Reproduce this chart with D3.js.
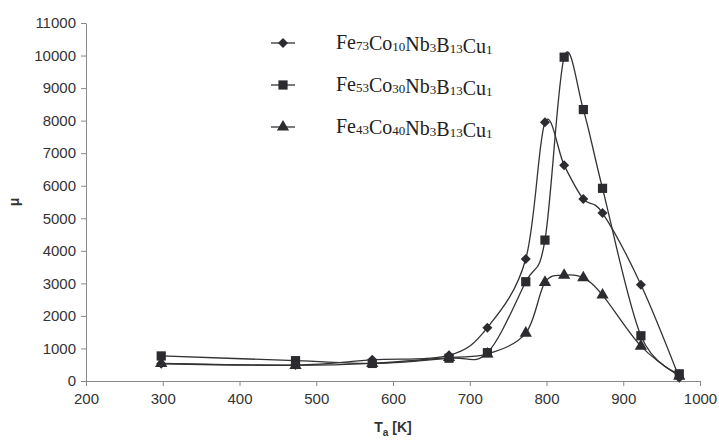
<!DOCTYPE html>
<html>
<head>
<meta charset="utf-8">
<script src="https://cdn.jsdelivr.net/npm/d3@7"></script>
<style>
  body { margin: 0; background: #fff; }
  .axis text { font-family: "Liberation Sans", Arial, sans-serif; font-size: 15px; fill: #333; }
  .axis path, .axis line { stroke: #888; }
</style>
</head>
<body>
<div id="chart"></div>
<script>
// annealing temperatures [K]
let temps = [298, 473, 573, 673, 723, 773, 798, 823, 848, 873, 923, 973];

// permeability values
let muCo10 = [530, 490, 650, 790, 1640, 3750, 7950, 6630, 5590, 5160, 2960, 100];
let muCo30 = [770, 625, 540, 700, 870, 3050, 4330, 9950, 8340, 5920, 1390, 220];
let muCo40 = [540, 480, 540, 720, 830, 1470, 3030, 3250, 3170, 2640, 1070, 150];

let xTicks = [200, 300, 400, 500, 600, 700, 800, 900, 1000];
let yTicks = [0, 1000, 2000, 3000, 4000, 5000, 6000, 7000, 8000, 9000, 10000, 11000];

// legend name pieces: [text, subscript]
let names = [
    [["Fe", "73"], ["Co", "10"], ["Nb", "3"], ["B", "13"], ["Cu", "1"]],
    [["Fe", "53"], ["Co", "30"], ["Nb", "3"], ["B", "13"], ["Cu", "1"]],
    [["Fe", "43"], ["Co", "40"], ["Nb", "3"], ["B", "13"], ["Cu", "1"]]
];

// square rotated 45 degrees, like the spreadsheet diamond
let wideDiamond = {
    draw: function (ctx, size) {
        let r = Math.sqrt(size / 2);
        ctx.moveTo(0, -r);
        ctx.lineTo(r, 0);
        ctx.lineTo(0, r);
        ctx.lineTo(-r, 0);
        ctx.closePath();
    }
};

let series = [
    { values: muCo10, symbol: wideDiamond, size: 50 },
    { values: muCo30, symbol: d3.symbolSquare, size: 85 },
    { values: muCo40, symbol: d3.symbolTriangle, size: 65 }
];

let margin = { top: 23, right: 19, bottom: 61, left: 86 };
let width = 719 - margin.left - margin.right,
    height = 442 - margin.top - margin.bottom;

let svg = d3.select("#chart").append("svg")
    .attr("width", 719)
    .attr("height", 442);

let g = svg.append("g")
    .attr("transform", "translate(" + margin.left + "," + margin.top + ")");

let x = d3.scaleLinear().domain([200, 1000]).range([0, width]);
let y = d3.scaleLinear().domain([0, 11000]).range([height, 0]);

g.append("g")
    .attr("class", "axis")
    .attr("transform", "translate(0," + height + ")")
    .call(d3.axisBottom(x).tickValues(xTicks).tickFormat(d3.format("d"))
        .tickSize(5).tickPadding(7).tickSizeOuter(0));

g.append("g")
    .attr("class", "axis")
    .call(d3.axisLeft(y).tickValues(yTicks).tickFormat(d3.format("d"))
        .tickSize(5).tickPadding(5).tickSizeOuter(0));

// axis titles
svg.append("text")
    .attr("x", margin.left + width / 2)
    .attr("y", 432)
    .attr("text-anchor", "middle")
    .style("font-family", "Liberation Sans, Arial, sans-serif")
    .style("font-weight", "bold")
    .style("font-size", "14px")
    .style("fill", "#333")
    .html('T<tspan dy="4" font-size="10px">a</tspan><tspan dy="-4"> [K]</tspan>');

svg.append("text")
    .attr("transform", "translate(19," + (margin.top + height / 2) + ") rotate(-90)")
    .attr("text-anchor", "middle")
    .style("font-family", "Liberation Sans, Arial, sans-serif")
    .style("font-weight", "bold")
    .style("font-size", "14px")
    .style("fill", "#333")
    .text("μ");

let line = d3.line()
    .x((d, i) => x(temps[i]))
    .y(d => y(d))
    .curve(d3.curveCardinal.tension(0));

series.forEach(s => {
    g.append("path")
        .datum(s.values)
        .attr("d", line)
        .attr("fill", "none")
        .attr("stroke", "#333")
        .attr("stroke-width", 1.3);
});

series.forEach(s => {
    g.selectAll(null)
        .data(s.values)
        .enter().append("path")
        .attr("d", d3.symbol().type(s.symbol).size(s.size))
        .attr("transform", (d, i) => "translate(" + x(temps[i]) + "," + y(d) + ")")
        .attr("fill", "#2b2b30");
});

// legend
let legend = svg.append("g");
series.forEach((s, k) => {
    let ly = 43 + k * 42;
    legend.append("line")
        .attr("x1", 271).attr("x2", 295)
        .attr("y1", ly).attr("y2", ly)
        .attr("stroke", "#333")
        .attr("stroke-width", 1.3);
    legend.append("path")
        .attr("d", d3.symbol().type(s.symbol).size(s.size))
        .attr("transform", "translate(283," + ly + ")")
        .attr("fill", "#2b2b30");
    let t = legend.append("text")
        .attr("x", 336)
        .attr("y", ly + 6)
        .style("font-family", "Liberation Serif, Times New Roman, serif")
        .style("font-size", "20px")
        .style("fill", "#222");
    names[k].forEach(p => {
        t.append("tspan").text(p[0]);
        t.append("tspan").attr("font-size", "13px").attr("dy", 1).text(p[1]);
        t.append("tspan").attr("dy", -1).text("");
    });
});
</script>
</body>
</html>
